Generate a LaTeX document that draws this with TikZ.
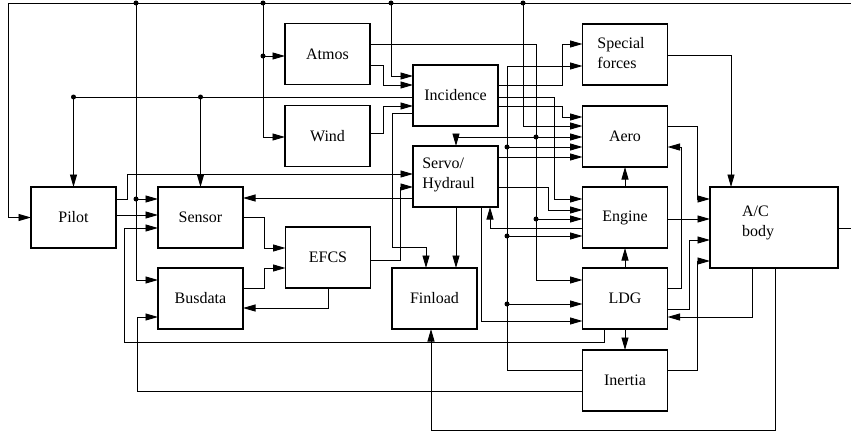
\documentclass[tikz,border=0pt]{standalone}
\usepackage{fontspec}
\setmainfont{Liberation Serif}
\usetikzlibrary{arrows.meta}
\begin{document}
\begin{tikzpicture}[x=1pt,y=-1pt,
  blk/.style={draw,line width=1.1pt,minimum width=85pt,minimum height=61pt,inner sep=0pt,outer sep=0pt,font=\fontsize{16}{20}\selectfont},
  txt/.style={inner sep=0pt,align=left,font=\fontsize{16}{20}\selectfont},
  ln/.style={line width=0.9pt},
  arr/.style={line width=0.9pt,-{Triangle[length=12.5pt,width=7pt]}},
  dot/.style={circle,fill,inner sep=0pt,minimum size=5pt}]
\useasboundingbox (0,0) rectangle (851,436);

% blocks
\node[blk] (pilot) at (73.5,217.5) {Pilot};
\node[blk] (sensor) at (200.5,217.5) {Sensor};
\node[blk] (busdata) at (200.5,298.5) {Busdata};
\node[blk] (efcs) at (328,257.5) {EFCS};
\node[blk] (atmos) at (327.5,54) {Atmos};
\node[blk] (wind) at (327.5,136) {Wind};
\node[blk] (incid) at (455.5,95.5) {Incidence};
\node[blk] (servo) at (455.5,176.5) {};
\node[txt] (servoT) at (448.5,175) {Servo/\\Hydraul};
\node[blk] (finload) at (434.5,298.5) {Finload};
\node[blk] (special) at (625,54.5) {};
\node[txt] (specialT) at (621,53) {Special\\forces};
\node[blk] (aero) at (625,136.5) {Aero};
\node[blk] (engine) at (625,217.5) {Engine};
\node[blk] (ldg) at (625,298.5) {LDG};
\node[blk] (inertia) at (625,380.5) {Inertia};
\node[blk,minimum width=128pt,minimum height=81pt] (acbody) at (774,227.5) {};
\node[txt] (acT) at (758,223) {A/C\\body};

% feedback bus
\coordinate (busR) at (851,3);
\coordinate (acOut) at (851,228);
\draw[ln] (acbody.east |- 0,228) -- (acOut);
\draw[arr] (busR) -- (8,3) |- (pilot.west);
\draw[arr] (136,3) |- (sensor.west |- 0,199);
\draw[arr] (136,199) |- (busdata.west |- 0,280);
\draw[arr] (263,3) |- (atmos.west |- 0,56);
\draw[arr] (263,56) |- (wind.west |- 0,137);
\draw[arr] (391,3) |- (incid.west |- 0,76);
\draw[arr] (523,3) |- (aero.west |- 0,126);

% Atmos
\draw[arr] (atmos.east |- 0,44) -| (536,280) -- (ldg.west |- 0,280);
\draw[arr] (536,219) -- (engine.west |- 0,219);
\draw[arr] (536,137) -- (aero.west |- 0,137);
\draw[arr] (536,137) -| (servo.north -| 456,0);
\draw[arr] (atmos.east |- 0,65) -| (383,85) -- (incid.west |- 0,85);
% Wind
\draw[arr] (wind.east |- 0,133) -| (383,106) -- (incid.west |- 0,106);

% Incidence
\draw[arr] (incid.west |- 0,97) -| (pilot.north);
\draw[arr] (sensor.north |- 0,97) -- (sensor.north);
\draw[arr] (incid.east |- 0,85) -| (562,44) -- (special.west |- 0,44);
\draw[arr] (incid.east |- 0,97) -| (554,199) -- (engine.west |- 0,199);
\draw[arr] (incid.east |- 0,106) -| (562,117) -- (aero.west |- 0,117);
\draw[arr] (incid.west |- 0,113) -| (392,247) -| (finload.north -| 426,0);

% Servo
\draw[arr] (servo.east |- 0,157) -- (aero.west |- 0,157);
\draw[arr] (servo.east |- 0,187) -| (548,210) -- (engine.west |- 0,210);
\draw[arr] (servo.west |- 0,198) -- (sensor.east |- 0,198);
\draw[arr] (servo.south -| 456,0) -- (finload.north -| 456,0);
\draw[arr] (servo.south -| 481,0) |- (ldg.west |- 0,321);
\draw[arr] (engine.west |- 0,228) -| (servo.south -| 490,0);

% Pilot
\draw[arr] (pilot.east |- 0,199) -| (127,174) -- (servo.west |- 0,174);
\draw[arr] (pilot.east |- 0,215) -- (sensor.west |- 0,215);

% Sensor, Busdata, EFCS
\draw[arr] (sensor.east |- 0,217) -| (264,248) -- (efcs.west |- 0,248);
\draw[arr] (busdata.east |- 0,288) -| (264,268) -- (efcs.west |- 0,268);
\draw[arr] (efcs.south) |- (busdata.east |- 0,308);
\draw[arr] (efcs.east |- 0,260) -| (400,187) -- (servo.west |- 0,187);

% Special forces, Aero, Engine
\draw[arr] (special.east |- 0,55) -| (acbody.north -| 731,0);
\draw[arr] (aero.east |- 0,126) -| (697,199) -- (acbody.west |- 0,199);
\draw[arr] (engine.north) -- (aero.south);
\draw[arr] (engine.east |- 0,219) -- (acbody.west |- 0,219);

% LDG
\draw[arr] (ldg.north) -- (engine.south);
\draw[arr] (ldg.south) -- (inertia.north);
\draw[arr] (ldg.east |- 0,288) -| (681,147) -- (aero.east |- 0,147);
\draw[arr] (ldg.east |- 0,309) -| (689,240) -- (acbody.west |- 0,240);
\draw[arr] (ldg.south -| 604,0) |- (124,342) |- (sensor.west |- 0,228);

% Inertia
\draw[arr] (inertia.west |- 0,370) -| (507,66) -- (special.west |- 0,66);
\draw[arr] (507,147) -- (aero.west |- 0,147);
\draw[arr] (507,236) -- (engine.west |- 0,236);
\draw[arr] (507,304) -- (ldg.west |- 0,304);
\draw[arr] (inertia.west |- 0,391) -| (137,317) -- (busdata.west |- 0,317);
\draw[arr] (inertia.east |- 0,370) -| (697,261) -- (acbody.west |- 0,261);

% A/C body
\draw[arr] (acbody.south -| 752,0) |- (ldg.east |- 0,317);
\draw[arr] (acbody.south -| 775,0) |- (431,430) -- (finload.south -| 431,0);

% junction dots
\foreach \p [count=\i] in {(136,3),(263,3),(391,3),(523,3),(136,199),(263,56),(73.5,97),(200.5,97),(536,137),(536,219),(507,147),(507,236),(507,304)}
  \node[dot] (j\i) at \p {};
\end{tikzpicture}
\end{document}
